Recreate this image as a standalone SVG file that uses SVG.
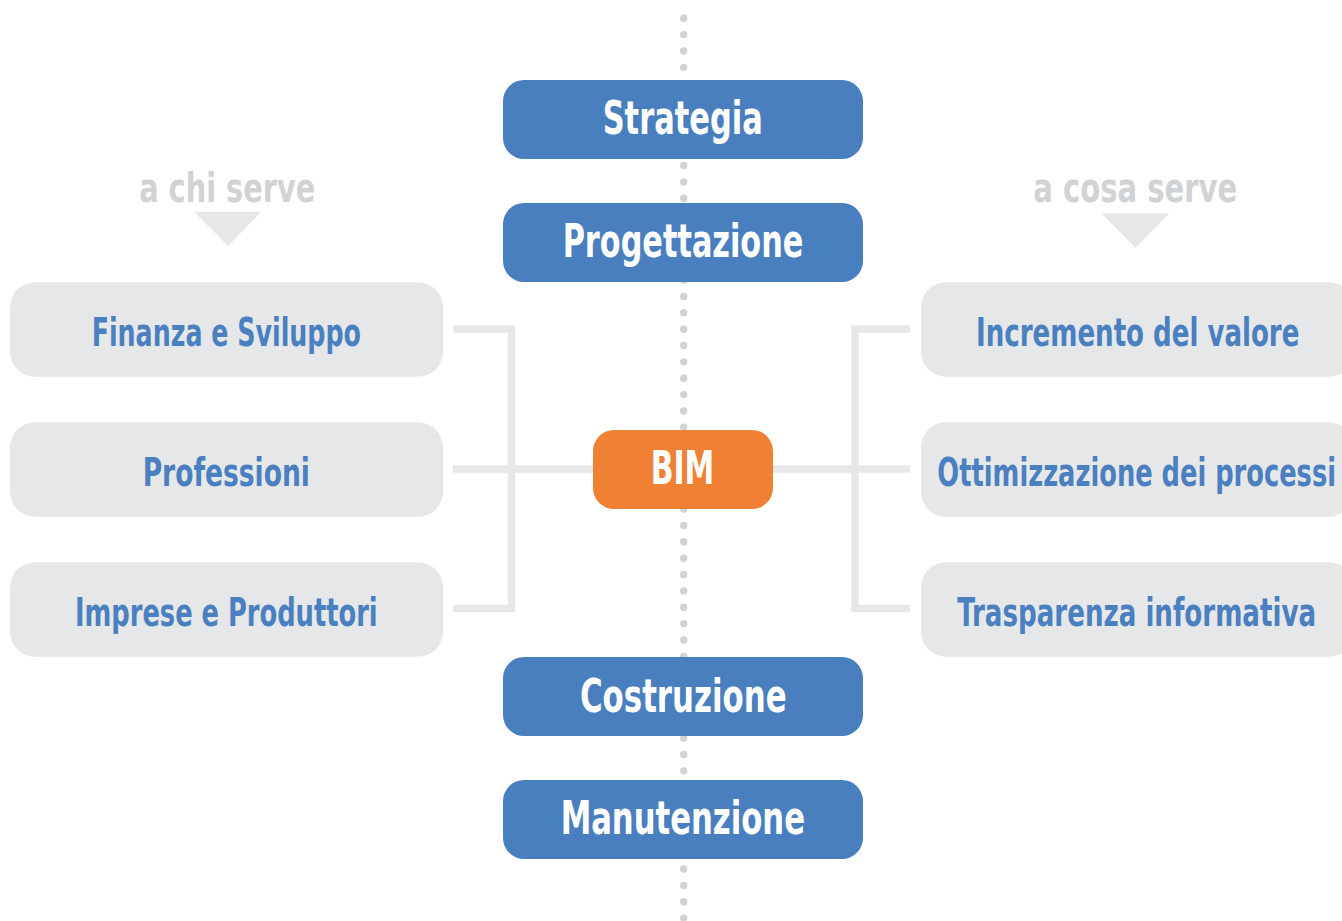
<svg xmlns="http://www.w3.org/2000/svg" width="1342" height="921" viewBox="0 0 1342 921">
<style>
.lbl{font-family:"Liberation Sans Narrow","DejaVu Sans Condensed","Arial Narrow","Liberation Sans",sans-serif;font-weight:bold;text-anchor:middle}
.phase{fill:#4a7fbf}
.phase-t{fill:#ffffff;font-size:46px}
.who{fill:#e6e7e8}
.who-t{fill:#4a7fc0;font-size:39px}
.hdr{fill:#d1d2d4;font-size:40px}
.conn{fill:none;stroke:#e6e7e8;stroke-width:7.5;stroke-linejoin:miter}
</style>
<rect width="1342" height="921" fill="#ffffff"/>
<g id="connectors">
  <line x1="683.7" y1="18.3" x2="683.7" y2="921" stroke="#d1d2d4" stroke-width="7.4" stroke-linecap="round" stroke-dasharray="0 16.36"/>
  <path class="conn" d="M453,329 H511.5 V608.5 H453 M453,469 H593"/>
  <path class="conn" d="M910,329 H855 V608.5 H910 M773,469 H910"/>
</g>
<g id="header-left">
  <text class="lbl hdr" x="227.2" y="202.3" textLength="176" lengthAdjust="spacingAndGlyphs">a chi serve</text>
  <polygon points="194,211.7 261.5,211.7 228,246" fill="#e6e7e8"/>
</g>
<g id="header-right">
  <text class="lbl hdr" x="1135.3" y="202.3" textLength="204" lengthAdjust="spacingAndGlyphs">a cosa serve</text>
  <polygon points="1101.7,213.3 1169.3,213.3 1135.5,248" fill="#e6e7e8"/>
</g>
<g id="strategia">
  <rect class="phase" x="503" y="80" width="360" height="79" rx="21"/>
  <text class="lbl phase-t" x="682.7" y="134" textLength="160" lengthAdjust="spacingAndGlyphs">Strategia</text>
</g>
<g id="progettazione">
  <rect class="phase" x="503" y="203" width="360" height="79" rx="21"/>
  <text class="lbl phase-t" x="683" y="256.7" textLength="240.7" lengthAdjust="spacingAndGlyphs">Progettazione</text>
</g>
<g id="bim">
  <rect x="593" y="430" width="180" height="79" rx="21" fill="#f08134"/>
  <text class="lbl phase-t" x="682.5" y="484" textLength="63.7" lengthAdjust="spacingAndGlyphs">BIM</text>
</g>
<g id="costruzione">
  <rect class="phase" x="503" y="657" width="360" height="79" rx="21"/>
  <text class="lbl phase-t" x="683.3" y="712.3" textLength="206.7" lengthAdjust="spacingAndGlyphs">Costruzione</text>
</g>
<g id="manutenzione">
  <rect class="phase" x="503" y="780" width="360" height="79" rx="21"/>
  <text class="lbl phase-t" x="682.8" y="834" textLength="244.3" lengthAdjust="spacingAndGlyphs">Manutenzione</text>
</g>
<g id="finanza">
  <rect class="who" x="10" y="282.3" width="433" height="94.4" rx="25"/>
  <text class="lbl who-t" x="226.3" y="346" textLength="269.3" lengthAdjust="spacingAndGlyphs">Finanza e Sviluppo</text>
</g>
<g id="professioni">
  <rect class="who" x="10" y="422.3" width="433" height="94.4" rx="25"/>
  <text class="lbl who-t" x="226.3" y="485.7" textLength="167.3" lengthAdjust="spacingAndGlyphs">Professioni</text>
</g>
<g id="imprese">
  <rect class="who" x="10" y="562.3" width="433" height="94.4" rx="25"/>
  <text class="lbl who-t" x="226.3" y="625.7" textLength="302.7" lengthAdjust="spacingAndGlyphs">Imprese e Produttori</text>
</g>
<g id="incremento">
  <rect class="who" x="921" y="282.3" width="433" height="94.4" rx="25"/>
  <text class="lbl who-t" x="1137.7" y="346" textLength="323.3" lengthAdjust="spacingAndGlyphs">Incremento del valore</text>
</g>
<g id="ottimizzazione">
  <rect class="who" x="921" y="422.3" width="433" height="94.4" rx="25"/>
  <text class="lbl who-t" x="1136.7" y="485.7" textLength="398.7" lengthAdjust="spacingAndGlyphs">Ottimizzazione dei processi</text>
</g>
<g id="trasparenza">
  <rect class="who" x="921" y="562.3" width="433" height="94.4" rx="25"/>
  <text class="lbl who-t" x="1136.7" y="625.7" textLength="358.7" lengthAdjust="spacingAndGlyphs">Trasparenza informativa</text>
</g>
</svg>
